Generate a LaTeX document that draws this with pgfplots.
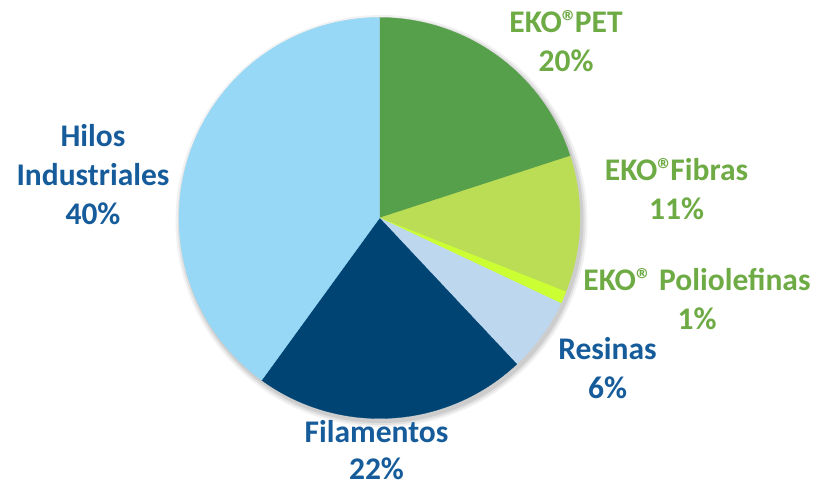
\documentclass[border=0pt]{standalone}
\usepackage{pgfplots}
\pgfplotsset{compat=1.18}
\usepackage{fontspec}
\setmainfont{Carlito}
\definecolor{cPET}{HTML}{57A04B}
\definecolor{cFib}{HTML}{BADD55}
\definecolor{cPol}{HTML}{CCFF33}
\definecolor{cRes}{HTML}{BDD7EE}
\definecolor{cFil}{HTML}{004474}
\definecolor{cHil}{HTML}{97D8F6}
\definecolor{tGreen}{HTML}{6EAB45}
\definecolor{tBlue}{HTML}{165C9B}
\newcommand{\reg}{®}
\tikzset{lbl/.style={anchor=base, font=\bfseries\fontsize{31.5}{39}\selectfont, inner sep=0pt}}
\begin{document}
\begin{tikzpicture}
\begin{axis}[hide axis, scale only axis, width=818pt, height=485pt,
  xmin=0, xmax=818, ymin=0, ymax=485, clip=false]
\path (rel axis cs:0,0) rectangle (rel axis cs:1,1);
% soft shadow
\fill[black, opacity=0.05] (axis cs:381.5,264) circle[radius=206];
\fill[black, opacity=0.07] (axis cs:381.5,264) circle[radius=204];
\fill[black, opacity=0.09] (axis cs:381.5,264) circle[radius=202];
% slices: percentages 20, 11, 1, 6, 22, 40 clockwise from 90 deg
\addplot[fill=cPET, draw=cPET, line width=0.3pt, domain=18:90, samples=50] ({379.5+200.5*cos(x)},{267+200.5*sin(x)}) -- (axis cs:379.5,267) -- cycle;
\addplot[fill=cFib, draw=cFib, line width=0.3pt, domain=-21.6:18, samples=40] ({379.5+200.5*cos(x)},{267+200.5*sin(x)}) -- (axis cs:379.5,267) -- cycle;
\addplot[fill=cPol, draw=cPol, line width=0.3pt, domain=-25.2:-21.6, samples=8] ({379.5+200.5*cos(x)},{267+200.5*sin(x)}) -- (axis cs:379.5,267) -- cycle;
\addplot[fill=cRes, draw=cRes, line width=0.3pt, domain=-46.8:-25.2, samples=25] ({379.5+200.5*cos(x)},{267+200.5*sin(x)}) -- (axis cs:379.5,267) -- cycle;
\addplot[fill=cFil, draw=cFil, line width=0.3pt, domain=-126:-46.8, samples=60] ({379.5+200.5*cos(x)},{267+200.5*sin(x)}) -- (axis cs:379.5,267) -- cycle;
\addplot[fill=cHil, draw=cHil, line width=0.3pt, domain=-270:-126, samples=100] ({379.5+200.5*cos(x)},{267+200.5*sin(x)}) -- (axis cs:379.5,267) -- cycle;
% labels
\node[lbl, text=tGreen] at (axis cs:566,452) {EKO\reg\kern-3pt PET};
\node[lbl, text=tGreen] at (axis cs:566,413) {20\%};
\node[lbl, text=tGreen] at (axis cs:676.5,304) {EKO\reg\kern-3pt Fibras};
\node[lbl, text=tGreen] at (axis cs:676.5,265) {11\%};
\node[lbl, text=tGreen] at (axis cs:697,194.3) {EKO\reg{} Poliolefinas};
\node[lbl, text=tGreen] at (axis cs:697,156) {1\%};
\node[lbl, text=tBlue] at (axis cs:607.5,126) {Resinas};
\node[lbl, text=tBlue] at (axis cs:607.5,87) {6\%};
\node[lbl, text=tBlue] at (axis cs:376.5,43) {Filamentos};
\node[lbl, text=tBlue] at (axis cs:376.5,6) {22\%};
\node[lbl, text=tBlue] at (axis cs:93,338) {Hilos};
\node[lbl, text=tBlue] at (axis cs:93,299) {Industriales};
\node[lbl, text=tBlue] at (axis cs:93,260) {40\%};
\end{axis}
\end{tikzpicture}
\end{document}
